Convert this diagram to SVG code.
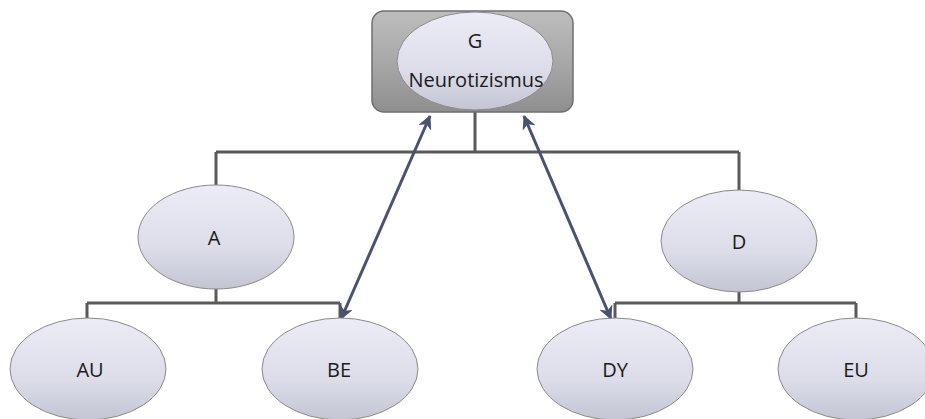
<svg xmlns="http://www.w3.org/2000/svg" width="925" height="419" viewBox="0 0 925 419">
<defs>
<linearGradient id="eg" x1="0" y1="0" x2="0" y2="1">
<stop offset="0" stop-color="#ebecf5"/>
<stop offset="0.6" stop-color="#dcdde9"/>
<stop offset="1" stop-color="#c3c5d3"/>
</linearGradient>
<linearGradient id="bg" x1="0" y1="0" x2="0" y2="1">
<stop offset="0" stop-color="#bdbdbd"/>
<stop offset="0.5" stop-color="#a8a8a8"/>
<stop offset="1" stop-color="#8f8f8f"/>
</linearGradient>
<marker id="ah" viewBox="0 0 14 14" refX="13" refY="7" markerWidth="14" markerHeight="14" markerUnits="userSpaceOnUse" orient="auto-start-reverse">
<path d="M0,0 L14,7 L0,14 L4,7 Z" fill="#4b5270"/>
</marker>
</defs>
<style>
.el{fill:url(#eg);stroke:#8a8a8a;stroke-width:1}
.ln{fill:none;stroke:#5a5a5a;stroke-width:3}
.ar{fill:none;stroke:#4b5270;stroke-width:3}
text{font-family:"Open Sans","Liberation Sans",sans-serif;font-size:20px;fill:#1a1a1a;text-anchor:middle}
</style>
<g id="connectors">
<path class="ln" d="M475,112 V152 M216,152 H739 M216,152 V185 M739,152 V190"/>
<path class="ln" d="M216,289 V303 M87,303 H340 M87,303 V318 M340,303 V318"/>
<path class="ln" d="M739,292 V303 M615,303 H856 M615,303 V318 M856,303 V318"/>
<line class="ar" x1="430" y1="116" x2="341" y2="319" marker-start="url(#ah)" marker-end="url(#ah)"/>
<line class="ar" x1="524" y1="116" x2="611" y2="319" marker-start="url(#ah)" marker-end="url(#ah)"/>
</g>
<g id="G">
<rect x="372" y="11" width="201" height="101" rx="12" fill="url(#bg)" stroke="#6f6f6f" stroke-width="1.5"/>
<ellipse class="el" cx="475" cy="61" rx="78" ry="49"/>
<text x="475" y="48">G</text>
<text x="476" y="87">Neurotizismus</text>
</g>
<g id="A">
<ellipse class="el" cx="216" cy="237" rx="78" ry="52"/>
<text x="214" y="245">A</text>
</g>
<g id="D">
<ellipse class="el" cx="739" cy="241" rx="78" ry="51"/>
<text x="739" y="249">D</text>
</g>
<g id="AU">
<ellipse class="el" cx="88" cy="369" rx="78" ry="51"/>
<text x="90" y="377">AU</text>
</g>
<g id="BE">
<ellipse class="el" cx="340" cy="369" rx="78" ry="51"/>
<text x="339" y="377">BE</text>
</g>
<g id="DY">
<ellipse class="el" cx="615" cy="369" rx="78" ry="51"/>
<text x="615" y="377">DY</text>
</g>
<g id="EU">
<ellipse class="el" cx="856" cy="369" rx="78" ry="51"/>
<text x="856" y="377">EU</text>
</g>
</svg>
